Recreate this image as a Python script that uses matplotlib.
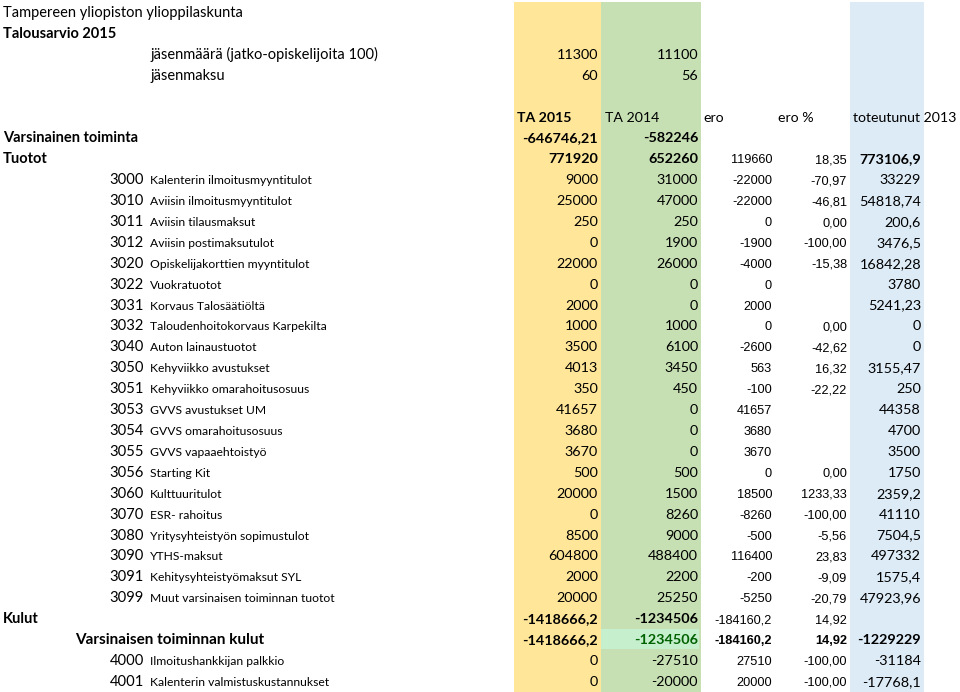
"""
Talousarvio 2015 -taulukko, piirretty matplotlibilla.
"""
import matplotlib.pyplot as plt
from matplotlib.patches import Rectangle

# --- data -----------------------------------------------------------------
org_name = "Tampereen yliopiston ylioppilaskunta"
budget_title = "Talousarvio 2015"

member_labels = ["jäsenmäärä (jatko-opiskelijoita 100)", "jäsenmaksu"]
member_ta2015 = ["11300", "60"]
member_ta2014 = ["11100", "56"]

col_headers = ["TA 2015", "TA 2014", "ero", "ero %", "toteutunut 2013"]

# summary rows: label, TA 2015, TA 2014, ero, ero %, toteutunut 2013
top_labels = ["Varsinainen toiminta", "Tuotot"]
top_ta2015 = ["-646746,21", "771920"]
top_ta2014 = ["-582246", "652260"]
top_ero = ["", "119660"]
top_ero_pct = ["", "18,35"]
top_tot2013 = ["", "773106,9"]

income_codes = ["3000", "3010", "3011", "3012", "3020", "3022", "3031", "3032",
                "3040", "3050", "3051", "3053", "3054", "3055", "3056", "3060",
                "3070", "3080", "3090", "3091", "3099"]
income_names = ["Kalenterin ilmoitusmyyntitulot", "Aviisin ilmoitusmyyntitulot",
                "Aviisin tilausmaksut", "Aviisin postimaksutulot",
                "Opiskelijakorttien myyntitulot", "Vuokratuotot",
                "Korvaus Talosäätiöltä", "Taloudenhoitokorvaus Karpekilta",
                "Auton lainaustuotot", "Kehyviikko avustukset",
                "Kehyviikko omarahoitusosuus", "GVVS avustukset UM",
                "GVVS omarahoitusosuus", "GVVS vapaaehtoistyö", "Starting Kit",
                "Kulttuuritulot", "ESR- rahoitus", "Yritysyhteistyön sopimustulot",
                "YTHS-maksut", "Kehitysyhteistyömaksut SYL",
                "Muut varsinaisen toiminnan tuotot"]
income_ta2015 = ["9000", "25000", "250", "0", "22000", "0", "2000", "1000", "3500",
                 "4013", "350", "41657", "3680", "3670", "500", "20000", "0",
                 "8500", "604800", "2000", "20000"]
income_ta2014 = ["31000", "47000", "250", "1900", "26000", "0", "0", "1000", "6100",
                 "3450", "450", "0", "0", "0", "500", "1500", "8260", "9000",
                 "488400", "2200", "25250"]
income_ero = ["-22000", "-22000", "0", "-1900", "-4000", "0", "2000", "0", "-2600",
              "563", "-100", "41657", "3680", "3670", "0", "18500", "-8260", "-500",
              "116400", "-200", "-5250"]
income_ero_pct = ["-70,97", "-46,81", "0,00", "-100,00", "-15,38", "", "", "0,00",
                  "-42,62", "16,32", "-22,22", "", "", "", "0,00", "1233,33",
                  "-100,00", "-5,56", "23,83", "-9,09", "-20,79"]
income_tot2013 = ["33229", "54818,74", "200,6", "3476,5", "16842,28", "3780",
                  "5241,23", "0", "0", "3155,47", "250", "44358", "4700", "3500",
                  "1750", "2359,2", "41110", "7504,5", "497332", "1575,4",
                  "47923,96"]

cost_label = "Kulut"
cost_values = ["-1418666,2", "-1234506", "-184160,2", "14,92", ""]
cost_sub_label = "Varsinaisen toiminnan kulut"
cost_sub_values = ["-1418666,2", "-1234506", "-184160,2", "14,92", "-1229229"]

cost_codes = ["4000", "4001"]
cost_names = ["Ilmoitushankkijan palkkio", "Kalenterin valmistuskustannukset"]
cost_ta2015 = ["0", "0"]
cost_ta2014 = ["-27510", "-20000"]
cost_ero = ["27510", "20000"]
cost_ero_pct = ["-100,00", "-100,00"]
cost_tot2013 = ["-31184", "-17768,1"]

# --- layout ---------------------------------------------------------------
W, H = 960, 692
ROW0 = 12.0      # centre of first row (px)
STEP = 20.9      # row height (px)

FONT = "Lato"
NUM_FONT = "Liberation Sans"

# right edges of the value columns
col_right = [598, 698, 772, 847, 921]
col_header_x = [517, 605, 703, 778, 853]

YELLOW = "#FFE699"
GREEN = "#C6E0B4"
BLUE = "#DDEBF7"
GOOD_BG = "#C6EFCE"
GOOD_FG = "#006100"


def base(i):
    return ROW0 + STEP * i + 5


def txt(ax, x, i, s, size=10, bold=False, ha="left", family=FONT, color="black"):
    if not s:
        return
    ax.text(x, base(i), s, fontsize=size, fontweight="bold" if bold else "normal",
            ha=ha, va="baseline", family=family, color=color)


def value_row(ax, i, values, bold=(False,) * 5, colors=("black",) * 5):
    for c, v in enumerate(values):
        small = c in (2, 3)
        txt(ax, col_right[c], i, v,
            size=9.2 if small else 10.4,
            bold=bold[c], ha="right",
            family=NUM_FONT if small else FONT,
            color=colors[c])


fig = plt.figure(figsize=(W / 100, H / 100), dpi=100)
ax = fig.add_axes([0, 0, 1, 1])
ax.set_xlim(0, W)
ax.set_ylim(H, 0)
ax.axis("off")

# coloured column backgrounds
ax.add_patch(Rectangle((514, 2), 87, H, color=YELLOW, lw=0))
ax.add_patch(Rectangle((601, 2), 100, H, color=GREEN, lw=0))
ax.add_patch(Rectangle((850, 2), 74, H, color=BLUE, lw=0))

# title rows
txt(ax, 3, 0, org_name, size=10.5)
txt(ax, 3, 1, budget_title, size=10.5, bold=True)
for k, lab in enumerate(member_labels):
    txt(ax, 150, 2 + k, lab, size=10.5)
    txt(ax, col_right[0], 2 + k, member_ta2015[k], size=10.4, ha="right")
    txt(ax, col_right[1], 2 + k, member_ta2014[k], size=10.4, ha="right")

# header row
for c, h in enumerate(col_headers):
    txt(ax, col_header_x[c], 5, h, size=10.2, bold=(c == 0))

# Varsinainen toiminta / Tuotot
for k, lab in enumerate(top_labels):
    i = 6 + k
    txt(ax, 3, i, lab, size=10.5, bold=True)
    vals = [top_ta2015[k], top_ta2014[k], top_ero[k], top_ero_pct[k], top_tot2013[k]]
    value_row(ax, i, vals, bold=(True, True, False, False, True))

# income accounts
for k, code in enumerate(income_codes):
    i = 8 + k
    txt(ax, 144, i, code, size=10.6, ha="right")
    txt(ax, 150, i, income_names[k], size=8.7)
    value_row(ax, i, [income_ta2015[k], income_ta2014[k], income_ero[k],
                      income_ero_pct[k], income_tot2013[k]])

# costs
i = 8 + len(income_codes)
txt(ax, 3, i, cost_label, size=10.5, bold=True)
value_row(ax, i, cost_values, bold=(True, True, False, False, False))

i += 1
ax.add_patch(Rectangle((601, ROW0 + STEP * i - STEP / 2), 98, STEP,
                       color=GOOD_BG, lw=0))
txt(ax, 75, i, cost_sub_label, size=11, bold=True)
value_row(ax, i, cost_sub_values, bold=(True,) * 5,
          colors=("black", GOOD_FG, "black", "black", "black"))

for k, code in enumerate(cost_codes):
    i += 1
    txt(ax, 144, i, code, size=10.6, ha="right")
    txt(ax, 150, i, cost_names[k], size=8.7)
    value_row(ax, i, [cost_ta2015[k], cost_ta2014[k], cost_ero[k],
                      cost_ero_pct[k], cost_tot2013[k]])

fig.savefig("out.png", dpi=100)
